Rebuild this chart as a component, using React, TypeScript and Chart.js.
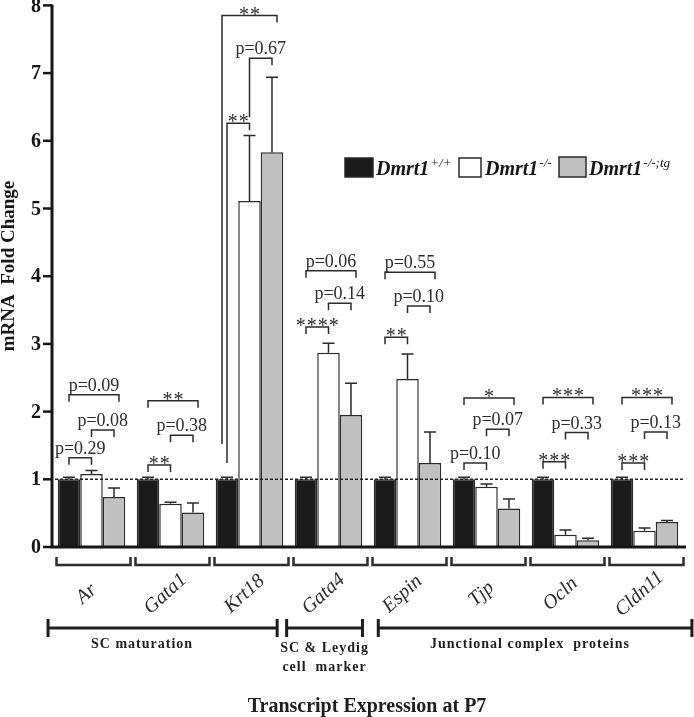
import React, { useEffect, useRef } from 'react';
import { Chart, registerables } from 'chart.js';

Chart.register(...registerables);

// ---------- data ----------
const categories = ['Ar', 'Gata1', 'Krt18', 'Gata4', 'Espin', 'Tjp', 'Ocln', 'Cldn11'];
const seriesNames = ['+/+', '-/-', '-/-;tg'];
const wt = [1, 1, 1, 1, 1, 1, 1, 1];
const wtErr = [0.03, 0.03, 0.03, 0.03, 0.03, 0.03, 0.03, 0.03];
const ko = [1.08, 0.64, 5.11, 2.87, 2.48, 0.89, 0.18, 0.24];
const koErr = [0.05, 0.02, 0.97, 0.14, 0.37, 0.04, 0.07, 0.04];
const tg = [0.74, 0.51, 5.83, 1.95, 1.24, 0.57, 0.10, 0.37];
const tgErr = [0.13, 0.14, 1.11, 0.47, 0.46, 0.14, 0.03, 0.02];
const yTicks = [0, 1, 2, 3, 4, 5, 6, 7, 8];
const refLine = 1;

// significance brackets: category, series a -> series b, height, label, optional long left leg end
const bracketCat = [0, 0, 0, 1, 1, 1, 2, 2, 2, 3, 3, 3, 4, 4, 4, 5, 5, 5, 6, 6, 6, 7, 7, 7];
const bracketFrom = [0, 1, 0, 0, 1, 0, 0, 1, 0, 0, 1, 0, 0, 1, 0, 0, 1, 0, 0, 1, 0, 0, 1, 0];
const bracketTo = [1, 2, 2, 1, 2, 2, 1, 2, 2, 1, 2, 2, 1, 2, 2, 1, 2, 2, 1, 2, 2, 1, 2, 2];
const bracketY = [1.32, 1.73, 2.25, 1.21, 1.65, 2.16, 6.26, 7.22, 7.85, 3.25, 3.6, 4.08,
  3.1, 3.56, 4.06, 1.24, 1.74, 2.2, 1.26, 1.69, 2.21, 1.24, 1.7, 2.21];
const bracketLabel = ['p=0.29', 'p=0.08', 'p=0.09', '**', 'p=0.38', '**', '**', 'p=0.67', '**',
  '****', 'p=0.14', 'p=0.06', '**', 'p=0.10', 'p=0.55', 'p=0.10', 'p=0.07', '*',
  '***', 'p=0.33', '***', '***', 'p=0.13', '***'];
const bracketLeftTo: (number | null)[] = [null, null, null, null, null, null, 1.24, 6.35, 1.52,
  null, null, null, null, null, null, null, null, null, null, null, null, null, null, null];

// category groups (in category units along the x axis)
const groupLabels = [['SC maturation'], ['SC & Leydig', 'cell  marker'], ['Junctional complex  proteins']];
const groupFrom = [-0.05, 2.97, 4.13];
const groupTo = [2.85, 3.93, 8.1];
const groupTextAt = [1.14, 3.45, 6.05];

const xTitle = 'Transcript Expression at P7';
const yTitle = 'mRNA  Fold Change';

// ---------- style ----------
const SERIF = '"Liberation Serif", "Times New Roman", serif';
const BLACK = '#1b1b1b';
const GRAY = '#c0c0c0';
const WHITE = '#ffffff';
const EDGE = '#2a2a2a';
const INK = '#2c2c2c';

export default function App() {
  const ref = useRef<HTMLCanvasElement>(null);

  useEffect(() => {
    document.body.style.margin = '0';
    const canvas = ref.current!;
    const values = [wt, ko, tg];
    const errs = [wtErr, koErr, tgErr];
    const fills = [BLACK, WHITE, GRAY];

    const overlay = {
      id: 'overlay',
      afterDatasetsDraw(chart: any) {
        const ctx: CanvasRenderingContext2D = chart.ctx;
        const xs = chart.scales.x;
        const ys = chart.scales.y;
        const area = chart.chartArea;
        const catW = (area.right - area.left) / categories.length;
        const Y = (v: number) => ys.getPixelForValue(v);
        const barX = (ds: number, i: number) => chart.getDatasetMeta(ds).data[i].x;
        const B = area.bottom;

        ctx.save();
        // error bars
        ctx.strokeStyle = EDGE;
        ctx.lineWidth = 1.5;
        for (let d = 0; d < 3; d++) {
          for (let i = 0; i < categories.length; i++) {
            const x = barX(d, i);
            const y0 = Y(values[d][i]);
            const y1 = Y(values[d][i] + errs[d][i]);
            ctx.beginPath();
            ctx.moveTo(x, y0);
            ctx.lineTo(x, y1);
            ctx.moveTo(x - 6, y1);
            ctx.lineTo(x + 6, y1);
            ctx.stroke();
          }
        }

        // dashed reference line
        ctx.save();
        ctx.setLineDash([3, 2]);
        ctx.strokeStyle = '#222';
        ctx.lineWidth = 1.5;
        ctx.beginPath();
        ctx.moveTo(area.left + 3, Y(refLine));
        ctx.lineTo(area.right, Y(refLine));
        ctx.stroke();
        ctx.restore();

        // significance brackets
        ctx.strokeStyle = INK;
        ctx.fillStyle = INK;
        ctx.lineWidth = 1.5;
        for (let k = 0; k < bracketCat.length; k++) {
          const c = bracketCat[k];
          const a = bracketFrom[k];
          const b = bracketTo[k];
          let xa = barX(a, c);
          let xb = barX(b, c);
          const outer = a === 0 && b === 2;
          if (outer) xb += 5;
          const lt = bracketLeftTo[k];
          if (outer && lt != null) xa -= 5;
          const yb = Y(bracketY[k]);
          const yla = lt != null ? Y(lt) : yb + 7;
          const ylb = yb + 7;
          ctx.beginPath();
          ctx.moveTo(xa, yla);
          ctx.lineTo(xa, yb);
          ctx.lineTo(xb, yb);
          ctx.lineTo(xb, ylb);
          ctx.stroke();
          const lab = bracketLabel[k];
          const cx = (xa + xb) / 2;
          ctx.textAlign = 'center';
          ctx.textBaseline = 'alphabetic';
          if (lab.startsWith('*')) {
            ctx.font = `20px ${SERIF}`;
            const step = 11;
            const n = lab.length;
            for (let j = 0; j < n; j++) {
              ctx.fillText('*', cx + (j - (n - 1) / 2) * step, yb + 5);
            }
          } else {
            ctx.font = `18px ${SERIF}`;
            ctx.fillText(lab, cx, yb - 4);
          }
        }

        // axes
        ctx.strokeStyle = '#161616';
        ctx.lineWidth = 3;
        ctx.beginPath();
        ctx.moveTo(area.left, area.top - 1);
        ctx.lineTo(area.left, B + 1.5);
        ctx.moveTo(area.left - 1.5, B);
        ctx.lineTo(area.right + 2, B);
        ctx.stroke();
        ctx.lineWidth = 2.5;
        ctx.fillStyle = '#161616';
        ctx.font = `bold 20px ${SERIF}`;
        ctx.textAlign = 'right';
        ctx.textBaseline = 'middle';
        for (const t of yTicks) {
          const y = Y(t);
          ctx.beginPath();
          ctx.moveTo(area.left - 9, y);
          ctx.lineTo(area.left, y);
          ctx.stroke();
          ctx.fillText(String(t), area.left - 11, y + 1);
        }

        // y title
        ctx.save();
        ctx.translate(9, 266);
        ctx.rotate(-Math.PI / 2);
        ctx.textAlign = 'center';
        ctx.textBaseline = 'middle';
        ctx.font = `bold 19px ${SERIF}`;
        ctx.fillText(yTitle, 0, 0);
        ctx.restore();

        // category brackets and labels
        ctx.strokeStyle = INK;
        ctx.fillStyle = INK;
        ctx.lineWidth = 2.5;
        for (let i = 0; i < categories.length; i++) {
          const cx = xs.getPixelForValue(i) + 2;
          ctx.beginPath();
          ctx.moveTo(cx - 37, B + 10);
          ctx.lineTo(cx - 37, B + 18);
          ctx.lineTo(cx + 37, B + 18);
          ctx.lineTo(cx + 37, B + 10);
          ctx.stroke();
          ctx.save();
          ctx.translate(cx - 7, B + 47);
          ctx.rotate((-42 * Math.PI) / 180);
          ctx.font = `italic 20px ${SERIF}`;
          ctx.textAlign = 'center';
          ctx.textBaseline = 'middle';
          ctx.fillText(categories[i], 0, 0);
          ctx.restore();
        }

        // group lines and labels
        ctx.strokeStyle = '#1e1e1e';
        ctx.fillStyle = '#1e1e1e';
        ctx.lineWidth = 3;
        for (let g = 0; g < groupLabels.length; g++) {
          const x0 = area.left + groupFrom[g] * catW;
          const x1 = area.left + groupTo[g] * catW;
          const gy = B + 81;
          ctx.beginPath();
          ctx.moveTo(x0, gy);
          ctx.lineTo(x1, gy);
          ctx.moveTo(x0, gy - 9);
          ctx.lineTo(x0, gy + 9);
          ctx.moveTo(x1, gy - 9);
          ctx.lineTo(x1, gy + 9);
          ctx.stroke();
          const tx = area.left + groupTextAt[g] * catW;
          ctx.font = `bold 14px ${SERIF}`;
          (ctx as any).letterSpacing = '1px';
          ctx.textAlign = 'center';
          ctx.textBaseline = 'middle';
          const lines = groupLabels[g];
          const startY = lines.length > 1 ? B + 101 : B + 97;
          lines.forEach((ln, j) => ctx.fillText(ln, tx, startY + j * 19));
          (ctx as any).letterSpacing = '0px';
        }

        // x title
        ctx.font = `bold 20px ${SERIF}`;
        ctx.textAlign = 'center';
        ctx.textBaseline = 'middle';
        ctx.fillText(xTitle, 367, B + 160);

        // legend
        const legBoxes = [
          [345, 158, 28, 19],
          [459, 158, 22, 19],
          [559, 157, 27, 20],
        ];
        const legText = [376, 485, 589];
        for (let d = 0; d < 3; d++) {
          const [bx, by, bw, bh] = legBoxes[d];
          ctx.fillStyle = fills[d];
          ctx.fillRect(bx, by, bw, bh);
          ctx.strokeStyle = EDGE;
          ctx.lineWidth = 1.5;
          ctx.strokeRect(bx, by, bw, bh);
          ctx.fillStyle = '#161616';
          ctx.textAlign = 'left';
          ctx.textBaseline = 'alphabetic';
          ctx.font = `bold italic 20px ${SERIF}`;
          ctx.fillText('Dmrt1', legText[d], 175);
          const w = ctx.measureText('Dmrt1').width;
          ctx.font = `italic 13px ${SERIF}`;
          ctx.fillText(seriesNames[d], legText[d] + w + 1, 167);
        }
        ctx.restore();
      },
    };

    const chart = new Chart(canvas, {
      type: 'bar',
      data: {
        labels: categories,
        datasets: [
          { label: 'Dmrt1+/+', data: wt, backgroundColor: BLACK, borderColor: EDGE, borderWidth: 1.5 },
          { label: 'Dmrt1-/-', data: ko, backgroundColor: WHITE, borderColor: EDGE, borderWidth: 1.5 },
          { label: 'Dmrt1-/-;tg', data: tg, backgroundColor: GRAY, borderColor: EDGE, borderWidth: 1.5 },
        ],
      },
      options: {
        responsive: false,
        animation: false,
        devicePixelRatio: 1,
        layout: { padding: { left: 52, right: 10, top: 5.4, bottom: 170 } },
        datasets: { bar: { categoryPercentage: 0.854, barPercentage: 1 } },
        plugins: { legend: { display: false }, tooltip: { enabled: false } },
        scales: {
          x: { display: false },
          y: { display: false, min: 0, max: 8 },
        },
      } as any,
      plugins: [overlay],
    });
    return () => chart.destroy();
  }, []);

  return <canvas ref={ref} width={694} height={717} style={{ display: 'block' }} />;
}
